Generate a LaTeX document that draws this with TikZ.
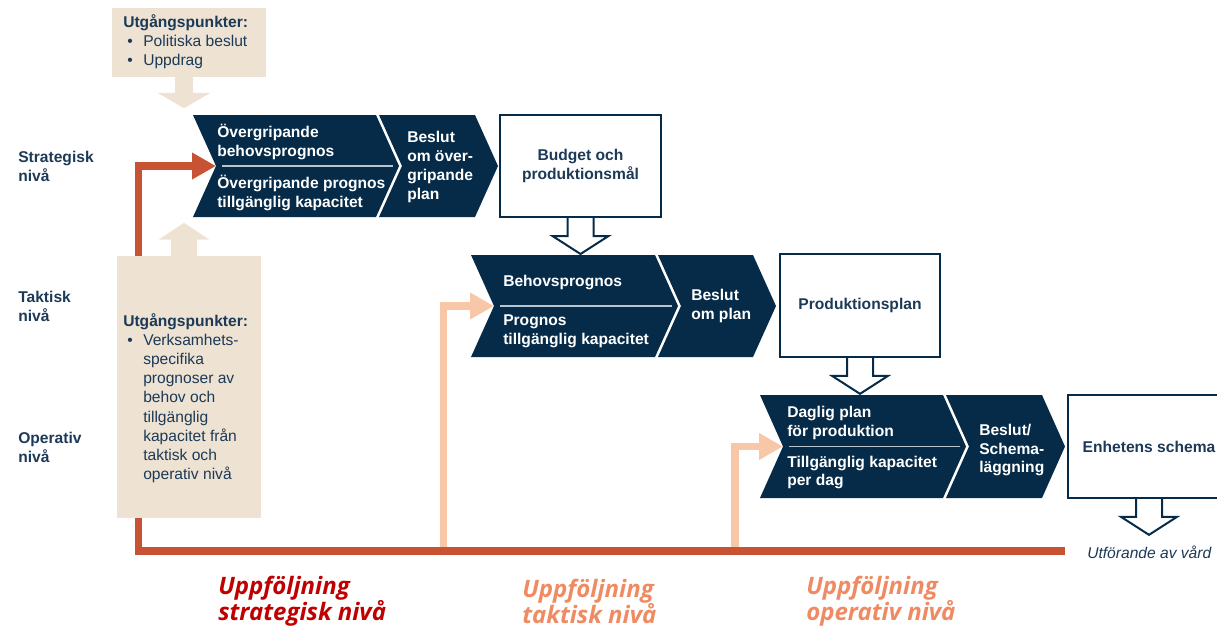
\documentclass[tikz,border=0pt]{standalone}
\usepackage{fontspec}
\setmainfont{Liberation Sans}
\newfontfamily\fupfont{Open Sans}
\usepackage{xcolor}
\usetikzlibrary{arrows.meta}
\usetikzlibrary{calc}
\definecolor{navy}{HTML}{062B48}
\definecolor{lvltext}{HTML}{1C3A57}
\definecolor{sand}{HTML}{EEE2D2}
\definecolor{rust}{HTML}{C85234}
\definecolor{peach}{HTML}{F7C7A7}
\definecolor{fupred}{HTML}{C00000}
\definecolor{fupsalmon}{HTML}{F08A62}
\newcommand\ubul{\makebox[15pt][l]{\hspace{3pt}\textbullet}}
\newcommand\uind{\hspace*{15pt}}
\tikzset{
	lvl/.style={anchor=west, align=left, inner sep=0pt, text=lvltext, font=\bfseries\fontsize{11.7}{14.2}\selectfont},
	chevtxt/.style={anchor=west, align=left, inner sep=0pt, text=white, font=\bfseries\fontsize{11.7}{14.2}\selectfont},
	outbox/.style={draw=navy, line width=1.5pt, fill=white, align=center, inner sep=0pt, text=lvltext, font=\bfseries\fontsize{11.7}{14.2}\selectfont},
	sandbox/.style={fill=sand, inner sep=0pt},
	sandtxt/.style={anchor=west, align=left, inner sep=0pt, text=lvltext, font=\fontsize{11.7}{14.4}\selectfont},
	sepline/.style={draw=white!72!navy, line width=0.9pt},
	hollow/.style={draw=navy, line width=1.5pt, line join=miter},
	fback/.style={line width=5.8pt, line join=miter, -{Triangle[width=19pt,length=18pt]}},
	fup/.style={anchor=west, align=left, inner sep=0pt, font=\fupfont\bfseries\itshape\fontsize{18}{19.5}\selectfont}
}
\begin{document}
\begin{tikzpicture}[x=0.75pt, y=-0.75pt]
	\useasboundingbox (0,0) rectangle (1217,629);
	\clip (0,0) rectangle (1217,629);
	% levels
	\node[lvl] (lvl-strat) at (18,166) {Strategisk\\niv\aa};
	\node[lvl] (lvl-takt) at (18,306) {Taktisk\\niv\aa};
	\node[lvl] (lvl-oper) at (18,447.5) {Operativ\\niv\aa};
	% chevrons
	\foreach \nm/\xl/\xd/\xr/\yt/\yb in {strat/193/376/475/115/217, takt/471/655/753/255/357, oper/760/943/1042/395/498}{
		\pgfmathsetmacro\ym{(\yt+\yb)/2}
		\fill[navy] (\xl,\yt) -- (\xd,\yt) -- (\xd+23,\ym) -- (\xd,\yb) -- (\xl,\yb) -- (\xl+23,\ym) -- cycle;
		\fill[navy] (\xd+3,\yt) -- (\xr,\yt) -- (\xr+23,\ym) -- (\xr,\yb) -- (\xd+3,\yb) -- (\xd+26,\ym) -- cycle;
		\draw[sepline] (\xl+29,\ym) -- (\xd+17,\ym);
		\coordinate (\nm-notch) at (\xl+23,\ym);
	}
	\node[chevtxt] (strat-a) at (217,142) {\"Overgripande\\behovsprognos};
	\node[chevtxt] (strat-b) at (217,193) {\"Overgripande prognos\\tillg\"anglig kapacitet};
	\node[chevtxt] (strat-c) at (407,167) {Beslut\\om \"over-\\gripande\\plan};
	\node[chevtxt] (takt-a) at (503,282) {Behovsprognos};
	\node[chevtxt] (takt-b) at (503,331) {Prognos\\tillg\"anglig kapacitet};
	\node[chevtxt] (takt-c) at (691,306) {Beslut\\om plan};
	\node[chevtxt] (oper-a) at (787,422.5) {Daglig plan\\f\"or produktion};
	\node[chevtxt] (oper-b) at (787,472.5) {Tillg\"anglig kapacitet\\per dag};
	\node[chevtxt] (oper-c) at (979,450) {Beslut/\\Schema-\\l\"aggning};
	% results
	\node[outbox, minimum width=120.75pt, minimum height=76.5pt] (budget) at (580.5,166) {Budget och\\produktionsm\aa l};
	\node[outbox, minimum width=120pt, minimum height=77pt] (prodplan) at (860,305.5) {Produktionsplan};
	\node[outbox, minimum width=121.5pt, minimum height=77pt] (schema) at (1149,446.5) {Enhetens schema};
	\foreach \b in {budget, prodplan, schema}
		\draw[hollow] (\b.south) ++(13,0) -- ++(0,18) -- ++(15,0) -- ++(-28,18) -- ++(-28,-18) -- ++(15,0) -- ++(0,-18);
	\node[anchor=west, inner sep=0pt, text=lvltext, font=\itshape\fontsize{11.7}{14}\selectfont] (care) at (1087,552) {Utf\"orande av v\aa rd};
	% starting points
	\node[sandbox, minimum width=115.5pt, minimum height=51.75pt] (ubox1) at (189,42.5) {};
	\node[sandtxt] (ubox1-txt) at (123,41.5) {\textbf{Utg\aa ngspunkter:}\\\ubul Politiska beslut\\\ubul Uppdrag};
	\draw[sand, line width=13.5pt, -{Triangle[width=39pt,length=11.5pt]}] ([xshift=-3.75pt]ubox1.south) -- ++(0,31);
	% feedback
	\coordinate (fb-end) at (1065,551);
	\coordinate (fb-takt) at (443.5,551);
	\coordinate (fb-oper) at (735,551);
	\draw[fback, peach] (fb-takt) |- (takt-notch);
	\draw[fback, peach] (fb-oper) |- (oper-notch);
	\draw[fback, rust] (fb-end) -- (138.5,551) |- (strat-notch);
	\node[sandbox, minimum width=108pt, minimum height=196.5pt] (ubox2) at (189,387) {};
	\node[sandtxt] (ubox2-txt) at (123,398) {\textbf{Utg\aa ngspunkter:}\\\ubul Verksamhets-\\\uind specifika\\\uind prognoser av\\\uind behov och\\\uind tillg\"anglig\\\uind kapacitet fr\aa n\\\uind taktisk och\\\uind operativ niv\aa};
	\draw[sand, line width=19.5pt, -{Triangle[width=37.5pt,length=12.75pt]}] ([xshift=-3.75pt]ubox2.north) -- ++(0,-33);
	% follow-up
	\node[fup, text=fupred] (fup-strat) at (218,601.5) {Uppf\"oljning\\strategisk niv\aa};
	\node[fup, text=fupsalmon] (fup-takt) at (522,601.5) {Uppf\"oljning\\taktisk niv\aa};
	\node[fup, text=fupsalmon] (fup-oper) at (806,601.5) {Uppf\"oljning\\operativ niv\aa};
\end{tikzpicture}
\end{document}
